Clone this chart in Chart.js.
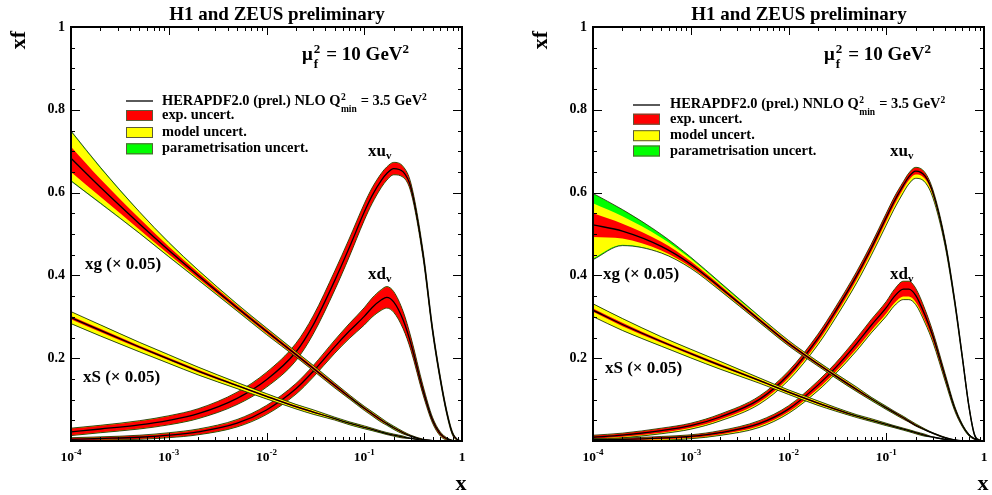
<!DOCTYPE html>
<html><head><meta charset="utf-8">
<script src="https://cdn.jsdelivr.net/npm/chart.js@4.4.1/dist/chart.umd.min.js"></script>
<style>
html,body{margin:0;padding:0;background:#fff;}
#wrap{position:relative;width:992px;height:495px;overflow:hidden;background:#fff;}
#c1{position:absolute;left:0;top:0;}
#c2{position:absolute;left:522px;top:0;}
</style></head><body>
<div id="wrap"><canvas id="c1" width="496" height="495"></canvas><canvas id="c2" width="470" height="495"></canvas></div>
<script>
// ---------- grid in x ----------
const xGrid = [1e-4, 2e-4, 5e-4, 1e-3, 2e-3, 5e-3, 0.01, 0.02, 0.03, 0.05, 0.07, 0.1, 0.12, 0.15, 0.17, 0.2, 0.25, 0.3, 0.4, 0.5, 0.6, 0.7, 0.8, 0.9, 1];
const xTickValues = [1e-4, 1e-3, 1e-2, 1e-1, 1];
const xTickBase = ['10', '10', '10', '10', '1'];
const xTickExp = ['-4', '-3', '-2', '-1', ''];
const yTickStep = 0.2;

// ---------- NLO (left panel) ----------
const nloUv    = [0.022,0.029,0.039,0.050,0.066,0.103,0.148,0.215,0.280,0.388,0.466,0.553,0.592,0.630,0.646,0.658,0.650,0.612,0.450,0.268,0.150,0.068,0.018,0.003,0];
const nloUvE   = [0.008,0.008,0.009,0.010,0.011,0.014,0.017,0.020,0.021,0.022,0.021,0.019,0.018,0.016,0.015,0.014,0.012,0.010,0.008,0.006,0.005,0.004,0.003,0.001,0];
const nloUvM   = [0.0005,0.0005,0.0005,0.0005,0.0005,0.0005,0.0005,0.0005,0.0005,0.0005,0.0005,0.0005,0.0005,0.0005,0.0005,0.0005,0.0005,0.0005,0.0005,0.0005,0.0005,0.0005,0.0005,0,0];
const nloUvP   = [0.0005,0.0005,0.0005,0.0005,0.0005,0.0005,0.0005,0.0005,0.0005,0.0005,0.0005,0.0005,0.0005,0.0005,0.0005,0.0005,0.0005,0.0005,0.0005,0.0005,0.0005,0.0005,0.0005,0,0];

const nloDv    = [0.004,0.006,0.009,0.014,0.022,0.043,0.075,0.126,0.168,0.228,0.265,0.301,0.322,0.341,0.347,0.336,0.292,0.235,0.122,0.050,0.017,0.005,0.001,0,0];
const nloDvE   = [0.003,0.003,0.004,0.005,0.006,0.008,0.010,0.012,0.013,0.015,0.017,0.020,0.022,0.024,0.025,0.024,0.020,0.015,0.010,0.006,0.004,0.002,0.001,0.001,0];
const nloDvM   = [0.0005,0.0005,0.0005,0.0005,0.0005,0.0005,0.0005,0.0005,0.0005,0.0005,0.0005,0.0005,0.0005,0.0005,0.0005,0.0005,0.0005,0.0005,0.0005,0.0005,0.0005,0.0005,0,0,0];
const nloDvP   = [0.0005,0.0005,0.0005,0.0005,0.0005,0.0005,0.0005,0.0005,0.0005,0.0005,0.0005,0.0005,0.0005,0.0005,0.0005,0.0005,0.0005,0.0005,0.0005,0.0005,0.0005,0.0005,0,0,0];

const nloG     = [0.683,0.613,0.525,0.461,0.400,0.322,0.265,0.209,0.176,0.134,0.107,0.079,0.066,0.050,0.042,0.032,0.020,0.012,0.0035,0.001,0,0,0,0,0];
const nloGEHi  = [0.028,0.020,0.013,0.009,0.007,0.005,0.005,0.004,0.004,0.004,0.003,0.003,0.003,0.003,0.002,0.002,0.002,0.001,0.001,0,0,0,0,0,0];
const nloGELo  = [0.033,0.023,0.014,0.010,0.007,0.005,0.005,0.004,0.004,0.004,0.003,0.003,0.003,0.003,0.002,0.002,0.002,0.001,0.001,0,0,0,0,0,0];
const nloGMHi  = [0.036,0.026,0.015,0.009,0.005,0.003,0.002,0.002,0.002,0.001,0.001,0.001,0.001,0.001,0.001,0.001,0.001,0.001,0,0,0,0,0,0,0];
const nloGMLo  = [0.020,0.014,0.008,0.005,0.003,0.002,0.002,0.001,0.001,0.001,0.001,0.001,0.001,0.001,0.001,0.001,0.001,0,0,0,0,0,0,0,0];
const nloGP    = [0.002,0.002,0.001,0.001,0.001,0.001,0.001,0.001,0.001,0.001,0.001,0.001,0.001,0.001,0.001,0.001,0,0,0,0,0,0,0,0,0];

const nloS     = [0.298,0.267,0.227,0.198,0.169,0.134,0.108,0.083,0.070,0.054,0.043,0.033,0.028,0.0215,0.018,0.0142,0.0095,0.0063,0.0025,0.0008,0.0002,0,0,0,0];
const nloSE    = [0.004,0.004,0.003,0.003,0.003,0.002,0.002,0.002,0.002,0.001,0.001,0.001,0.001,0.001,0.001,0.001,0.001,0,0,0,0,0,0,0,0];
const nloSM    = [0.010,0.009,0.008,0.007,0.006,0.005,0.004,0.003,0.003,0.002,0.002,0.002,0.0015,0.001,0.001,0.001,0.001,0,0,0,0,0,0,0,0];
const nloSP    = [0.0005,0.0005,0.0005,0.0005,0.0005,0.0005,0.0005,0.0005,0.0005,0.0005,0.0005,0.0005,0.0005,0.0005,0.0005,0.0005,0.0005,0,0,0,0,0,0,0,0];

// ---------- NNLO (right panel) ----------
const nnloUv    = [0.009,0.014,0.025,0.037,0.058,0.100,0.160,0.248,0.312,0.400,0.465,0.540,0.578,0.618,0.638,0.652,0.640,0.600,0.480,0.340,0.203,0.085,0.015,0.002,0];
const nnloUvE   = [0.004,0.004,0.005,0.005,0.006,0.007,0.008,0.009,0.009,0.009,0.009,0.009,0.009,0.008,0.008,0.008,0.007,0.006,0.005,0.004,0.003,0.002,0.001,0.001,0];
const nnloUvMHi = [0.0005,0.0005,0.0005,0.0005,0.0005,0.0005,0.0005,0.0005,0.0005,0.0005,0.0005,0.0005,0.0005,0.0005,0.0005,0.0005,0.0005,0.0005,0.0005,0.0005,0.0005,0.0005,0.0005,0,0];
const nnloUvMLo = [0.002,0.002,0.002,0.003,0.003,0.004,0.005,0.006,0.007,0.008,0.008,0.009,0.009,0.009,0.009,0.009,0.008,0.006,0.004,0.003,0.002,0.001,0.001,0,0];
const nnloUvP   = [0.0005,0.0005,0.0005,0.0005,0.0005,0.0005,0.0005,0.0005,0.0005,0.0005,0.0005,0.0005,0.0005,0.0005,0.0005,0.0005,0.0005,0.0005,0.0005,0.0005,0.0005,0.0005,0.0005,0,0];

const nnloDv    = [0.003,0.004,0.007,0.011,0.020,0.042,0.077,0.135,0.176,0.236,0.279,0.322,0.348,0.367,0.367,0.352,0.303,0.253,0.155,0.080,0.038,0.015,0.005,0.001,0];
const nnloDvE   = [0.002,0.002,0.003,0.003,0.004,0.006,0.007,0.009,0.010,0.012,0.013,0.014,0.016,0.018,0.018,0.016,0.013,0.010,0.007,0.004,0.002,0.001,0.001,0,0];
const nnloDvMHi = [0.0005,0.0005,0.0005,0.0005,0.0005,0.0005,0.0005,0.0005,0.0005,0.0005,0.0005,0.0005,0.0005,0.0005,0.0005,0.0005,0.0005,0.0005,0.0005,0.0005,0.0005,0.0005,0,0,0];
const nnloDvMLo = [0.001,0.001,0.002,0.002,0.002,0.003,0.003,0.004,0.004,0.005,0.005,0.006,0.006,0.007,0.007,0.006,0.005,0.004,0.003,0.002,0.001,0.001,0,0,0];
const nnloDvP   = [0.0005,0.0005,0.0005,0.0005,0.0005,0.0005,0.0005,0.0005,0.0005,0.0005,0.0005,0.0005,0.0005,0.0005,0.0005,0.0005,0.0005,0.0005,0.0005,0.0005,0.0005,0.0005,0,0,0];

const nnloG     = [0.522,0.507,0.470,0.427,0.371,0.293,0.236,0.186,0.158,0.124,0.102,0.080,0.069,0.056,0.048,0.038,0.027,0.019,0.008,0.0025,0.0006,0,0,0,0];
const nnloGEHi  = [0.028,0.018,0.011,0.007,0.005,0.004,0.004,0.003,0.003,0.003,0.002,0.002,0.002,0.002,0.002,0.002,0.001,0.001,0.001,0,0,0,0,0,0];
const nnloGELo  = [0.029,0.018,0.010,0.007,0.005,0.004,0.004,0.003,0.003,0.003,0.002,0.002,0.002,0.002,0.002,0.002,0.001,0.001,0.001,0,0,0,0,0,0];
const nnloGMHi  = [0.024,0.018,0.010,0.006,0.004,0.003,0.002,0.002,0.002,0.002,0.001,0.001,0.001,0.001,0.001,0.001,0.001,0,0,0,0,0,0,0,0];
const nnloGMLo  = [0.052,0.015,0.005,0.002,0.002,0.001,0.001,0.001,0.001,0.001,0.001,0.001,0.001,0.001,0,0,0,0,0,0,0,0,0,0,0];
const nnloGPHi  = [0.024,0.016,0.008,0.004,0.003,0.002,0.001,0.001,0.001,0.001,0.001,0.001,0.0005,0.0005,0.0005,0.0005,0,0,0,0,0,0,0,0,0];
const nnloGPLo  = [0.003,0.002,0.001,0.001,0.001,0.001,0.001,0.001,0.001,0.001,0.001,0.001,0.0005,0.0005,0,0,0,0,0,0,0,0,0,0,0];

const nnloS     = [0.316,0.2814,0.2404,0.2112,0.1829,0.1463,0.118,0.0915,0.077,0.060,0.0505,0.040,0.0348,0.0285,0.025,0.020,0.0138,0.0095,0.0038,0.0013,0.0003,0,0,0,0];
const nnloSE    = [0.004,0.004,0.003,0.003,0.003,0.002,0.002,0.002,0.002,0.001,0.001,0.001,0.001,0.001,0.001,0.001,0.001,0,0,0,0,0,0,0,0];
const nnloSM    = [0.011,0.010,0.008,0.007,0.006,0.004,0.003,0.003,0.002,0.002,0.002,0.0015,0.001,0.001,0.001,0.001,0.001,0,0,0,0,0,0,0,0];
const nnloSP    = [0.0005,0.0005,0.0005,0.0005,0.0005,0.0005,0.0005,0.0005,0.0005,0.0005,0.0005,0.0005,0.0005,0.0005,0.0005,0.0005,0.0005,0,0,0,0,0,0,0,0];

// ---------- styles ----------
const RED = '#ff0000', YEL = '#ffff00', GRN = '#00ff00', OUT = '#1e1e00';
const FONT = "'Liberation Serif', 'DejaVu Serif', serif";
Chart.defaults.font.family = FONT;

function pts(arr) { return arr.map((y, i) => ({ x: xGrid[i], y: Math.max(0, y) })); }
function add(a, b, s) { return a.map((v, i) => v + s * b[i]); }

function pdfSets(c, eHi, eLo, mHi, mLo, pHi, pLo) {
  const rHi = add(c, eHi, 1), rLo = add(c, eLo, -1);
  const yHi = add(rHi, mHi, 1), yLo = add(rLo, mLo, -1);
  const gHi = add(yHi, pHi, 1), gLo = add(yLo, pLo, -1);
  const fillSet = (d, col) => ({ data: pts(d), fill: '+1', backgroundColor: col, borderWidth: 0, borderColor: 'rgba(0,0,0,0)' });
  const plain = (d) => ({ data: pts(d), fill: false, borderWidth: 0, borderColor: 'rgba(0,0,0,0)' });
  return [
    fillSet(gHi, GRN), plain(gLo),
    fillSet(yHi, YEL), plain(yLo),
    fillSet(rHi, RED), plain(rLo),
    { data: pts(gHi), fill: false, borderWidth: 0.8, borderColor: OUT },
    { data: pts(gLo), fill: false, borderWidth: 0.8, borderColor: OUT },
    { data: pts(c), fill: false, borderWidth: 1.3, borderColor: '#000' }
  ];
}

function rich(ctx, x, y, parts) {
  ctx.textAlign = 'left'; ctx.textBaseline = 'alphabetic';
  for (const p of parts) {
    ctx.font = 'bold ' + p.size + 'px ' + FONT;
    if (p.stack) {
      const w = Math.max(ctx.measureText(p.sup).width, ctx.measureText(p.sub).width);
      ctx.fillText(p.sup, x, y + p.supDy);
      ctx.fillText(p.sub, x, y + p.subDy);
      x += w + (p.gap || 0);
    } else {
      ctx.fillText(p.t, x, y + (p.dy || 0));
      x += ctx.measureText(p.t).width + (p.gap || 0);
    }
  }
}

function decoPlugin(cfg) {
  return {
    id: 'deco' + cfg.id,
    afterDraw(chart) {
      const ctx = chart.ctx, a = chart.chartArea, xs = chart.scales.x, ys = chart.scales.y;
      ctx.save();
      ctx.fillStyle = '#000'; ctx.strokeStyle = '#000';
      ctx.lineWidth = 1;
      ctx.beginPath();
      for (let d = -4; d <= 0; d++) {
        for (let k = 1; k <= 9; k++) {
          const v = k * Math.pow(10, d);
          if (v > 1.0000001) break;
          const px = Math.round(xs.getPixelForValue(v)) + 0.5;
          const L = k === 1 ? 8 : 4;
          ctx.moveTo(px, a.bottom); ctx.lineTo(px, a.bottom - L);
          ctx.moveTo(px, a.top); ctx.lineTo(px, a.top + L);
        }
      }
      for (let i = 0; i <= 20; i++) {
        const py = Math.round(ys.getPixelForValue(i * 0.05)) + 0.5;
        const L = (i % 4 === 0) ? 9 : 4;
        ctx.moveTo(a.left, py); ctx.lineTo(a.left + L, py);
        ctx.moveTo(a.right, py); ctx.lineTo(a.right - L, py);
      }
      ctx.stroke();
      ctx.lineWidth = 2;
      ctx.strokeRect(a.left, a.top, a.right - a.left, a.bottom - a.top);
      for (let i = 0; i < xTickValues.length; i++) {
        const px = xs.getPixelForValue(xTickValues[i]);
        ctx.font = 'bold 13.5px ' + FONT;
        const wb = ctx.measureText(xTickBase[i]).width;
        ctx.font = 'bold 9px ' + FONT;
        const we = xTickExp[i] ? ctx.measureText(xTickExp[i]).width : 0;
        const x0 = px - (wb + we) / 2;
        rich(ctx, x0, 461, [{ t: xTickBase[i], size: 13.5 }, { t: xTickExp[i], size: 9, dy: -6 }]);
      }
      ctx.font = 'bold 19px ' + FONT; ctx.textAlign = 'center'; ctx.textBaseline = 'alphabetic';
      ctx.fillText('H1 and ZEUS preliminary', 277, 19.5);
      ctx.font = 'bold 22px ' + FONT;
      ctx.fillText('x', 461, 490);
      ctx.save(); ctx.translate(25, 40); ctx.rotate(-Math.PI / 2);
      ctx.textAlign = 'center'; ctx.fillText('xf', 0, 0); ctx.restore();
      rich(ctx, 302, 60, [
        { t: 'μ', size: 19, gap: 1 },
        { stack: true, sup: '2', sub: 'f', size: 13, supDy: -7, subDy: 8, gap: 6 },
        { t: '= 10 GeV', size: 19 },
        { t: '2', size: 13, dy: -7 }
      ]);
      const L = cfg.legend;
      ctx.lineWidth = 1.3; ctx.strokeStyle = '#000';
      ctx.beginPath(); ctx.moveTo(L.x0, L.lineY); ctx.lineTo(L.x1, L.lineY); ctx.stroke();
      rich(ctx, L.tx, L.ty, [
        { t: 'HERAPDF2.0 (prel.) ' + cfg.order + ' Q', size: 14.4, gap: 0.5 },
        { stack: true, sup: '2', sub: 'min', size: 9.5, supDy: -5, subDy: 7, gap: 4 },
        { t: '= 3.5 GeV', size: 14.4 },
        { t: '2', size: 9.5, dy: -5 }
      ]);
      const boxes = [[RED, 'exp. uncert.'], [YEL, 'model uncert.'], [GRN, 'parametrisation uncert.']];
      ctx.lineWidth = 1; ctx.strokeStyle = '#5a5a3a';
      boxes.forEach((b, i) => {
        const cy = L.boxY[i];
        ctx.fillStyle = b[0];
        ctx.fillRect(L.x0, cy - 5.5, L.x1 - L.x0, 11);
        ctx.strokeRect(L.x0 + 0.5, cy - 5.5 + 0.5, L.x1 - L.x0 - 1, 10);
        ctx.fillStyle = '#000';
        rich(ctx, L.tx, cy + 3.5, [{ t: b[1], size: 14.4 }]);
      });
      rich(ctx, 368, 156, [{ t: 'xu', size: 17 }, { t: 'v', size: 11, dy: 3 }]);
      rich(ctx, 368, 279, [{ t: 'xd', size: 17 }, { t: 'v', size: 11, dy: 3 }]);
      rich(ctx, cfg.gLab[0], cfg.gLab[1], [{ t: 'xg (× 0.05)', size: 17 }]);
      rich(ctx, cfg.sLab[0], cfg.sLab[1], [{ t: 'xS (× 0.05)', size: 17 }]);
      ctx.restore();
    }
  };
}

function makeChart(id, sets, padRight, cfg) {
  let datasets = [];
  sets.forEach(s => { datasets = datasets.concat(s); });
  const n = datasets.length;
  datasets.forEach((d, i) => {
    d.order = n - i;
    d.pointRadius = 0;
    d.cubicInterpolationMode = 'monotone';
  });
  return new Chart(document.getElementById(id), {
    type: 'line',
    data: { datasets },
    options: {
      responsive: false, animation: false, devicePixelRatio: 1,
      layout: { padding: { left: 0, right: padRight, top: 27, bottom: 0 } },
      plugins: { legend: { display: false }, tooltip: { enabled: false }, title: { display: false } },
      events: [],
      scales: {
        x: {
          type: 'logarithmic', min: 1e-4, max: 1,
          grid: { display: false, drawTicks: false }, border: { display: false },
          ticks: { display: false },
          afterFit: s => { s.height = 54; }
        },
        y: {
          type: 'linear', min: 0, max: 1,
          grid: { display: false, drawTicks: false }, border: { display: false },
          ticks: {
            stepSize: yTickStep, padding: 6, color: '#000',
            font: { family: FONT, weight: 'bold', size: 14 },
            callback: v => (Math.abs(v) < 1e-9 ? '' : String(Math.round(v * 10) / 10))
          },
          afterFit: s => { s.width = 71; }
        }
      }
    },
    plugins: [decoPlugin(cfg)]
  });
}

makeChart('c1', [
  pdfSets(nloUv, nloUvE, nloUvE, nloUvM, nloUvM, nloUvP, nloUvP),
  pdfSets(nloDv, nloDvE, nloDvE, nloDvM, nloDvM, nloDvP, nloDvP),
  pdfSets(nloS, nloSE, nloSE, nloSM, nloSM, nloSP, nloSP),
  pdfSets(nloG, nloGEHi, nloGELo, nloGMHi, nloGMLo, nloGP, nloGP)
], 34, {
  id: 1, order: 'NLO',
  legend: { x0: 126, x1: 153, tx: 162, lineY: 101, ty: 104.5, boxY: [115.5, 132.5, 148.8] },
  gLab: [85, 269], sLab: [83, 381.5]
});

makeChart('c2', [
  pdfSets(nnloUv, nnloUvE, nnloUvE, nnloUvMHi, nnloUvMLo, nnloUvP, nnloUvP),
  pdfSets(nnloDv, nnloDvE, nnloDvE, nnloDvMHi, nnloDvMLo, nnloDvP, nnloDvP),
  pdfSets(nnloS, nnloSE, nnloSE, nnloSM, nnloSM, nnloSP, nnloSP),
  pdfSets(nnloG, nnloGEHi, nnloGELo, nnloGMHi, nnloGMLo, nnloGPHi, nnloGPLo)
], 8, {
  id: 2, order: 'NNLO',
  legend: { x0: 111, x1: 138, tx: 148, lineY: 105, ty: 108, boxY: [119.2, 135.7, 151] },
  gLab: [81, 279], sLab: [83, 373]
});
</script>
</body></html>
